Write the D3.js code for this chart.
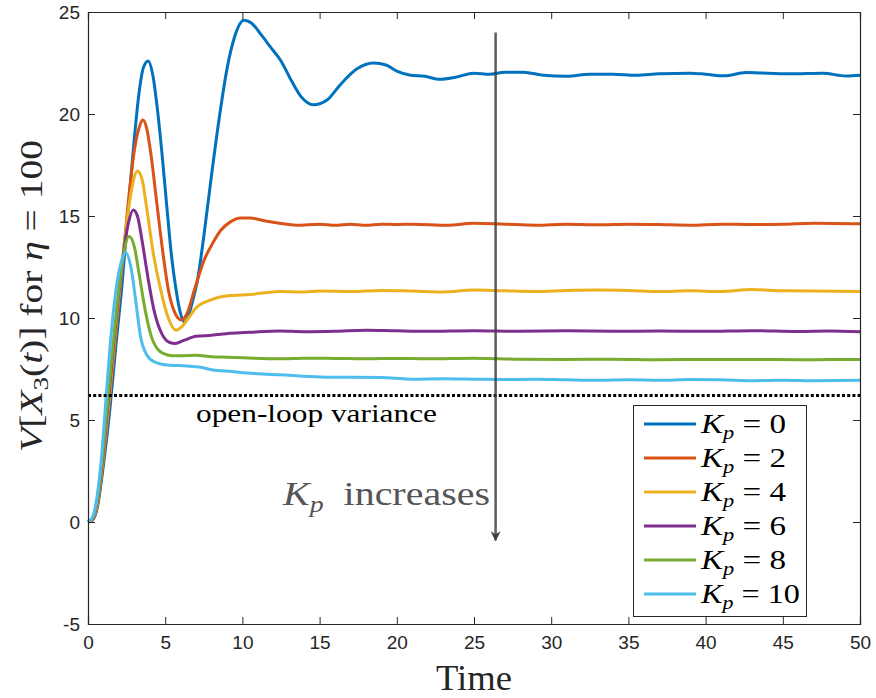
<!DOCTYPE html>
<html><head><meta charset="utf-8">
<script src="https://cdn.jsdelivr.net/npm/d3@7"></script>
<style>body{margin:0;background:#fff}svg{display:block}</style>
</head><body>
<svg id="c" width="876" height="698"></svg>
<script>
const xTicks = [0,5,10,15,20,25,30,35,40,45,50];
const yTicks = [-5,0,5,10,15,20,25];
const kpLabels = ["0","2","4","6","8","10"];
const colors = ["#0072BD","#D95319","#EDB120","#7E2F8E","#77AC30","#4DBEEE"];
const openLoop = 6.2;

const kp0 = [[0,0],[0.3,0.1],[0.6,0.7],[1.0,2.8],[1.4,5.4],[1.8,8.6],[2.2,11.6],[2.6,15.3],[3.0,18.8],[3.3,21.0],[3.6,22.3],[3.9,22.6],[4.2,21.9],[4.5,20.2],[4.8,18.0],[5.1,15.5],[5.4,13.1],[5.7,11.4],[6.0,10.2],[6.25,9.8],[6.5,10.1],[6.8,10.9],[7.1,11.9],[7.5,14.0],[8.0,17.0],[8.5,19.8],[9.0,22.2],[9.5,23.8],[10.1,24.6],[10.6,24.45],[11.2,23.9],[11.8,23.3],[12.5,22.6],[13.2,21.6],[13.8,20.85],[14.6,20.45],[15.5,20.7],[16.3,21.4],[17.4,22.2],[18.5,22.5],[19.3,22.4],[20.0,22.1],[20.9,21.9],[21.8,21.85],[22.8,21.7],[23.8,21.8],[25,22.0],[26,21.95],[27,22.05],[28.2,22.05],[29.5,21.9],[31,21.85],[32.5,21.95],[34,21.95],[35.5,21.9],[37,21.97],[39,22.0],[40,21.95],[41.2,21.87],[42.6,22.03],[44,22.0],[45.5,21.97],[47.6,22.0],[49.1,21.86],[50,21.9]];
const kp2 = [[0,0],[0.3,0.12],[0.6,0.8],[1.0,3.1],[1.4,6.0],[1.8,9.2],[2.2,12.4],[2.6,15.6],[3.0,18.2],[3.3,19.3],[3.55,19.7],[3.8,19.3],[4.1,17.9],[4.4,16.0],[4.8,13.5],[5.2,11.4],[5.6,10.3],[6.05,9.9],[6.4,10.2],[6.9,11.4],[7.5,12.8],[8.1,13.7],[8.6,14.3],[9.2,14.7],[9.9,14.9],[10.5,14.9],[11.5,14.75],[12.4,14.64],[13.5,14.55],[15,14.6],[16,14.55],[17,14.6],[18,14.55],[19,14.6],[20,14.58],[21,14.6],[23.3,14.55],[25,14.65],[27,14.6],[29,14.55],[31,14.6],[33,14.57],[35,14.6],[37,14.58],[39,14.55],[41,14.6],[43,14.58],[45,14.6],[47,14.65],[50,14.62]];
const kp4 = [[0,0],[0.3,0.15],[0.6,0.9],[1.0,3.3],[1.4,6.3],[1.8,9.6],[2.2,12.6],[2.6,15.2],[2.9,16.6],[3.2,17.2],[3.5,16.8],[3.8,15.4],[4.2,13.3],[4.7,11.4],[5.2,10.0],[5.7,9.4],[6.1,9.6],[6.6,10.1],[7.0,10.5],[8.0,10.9],[9.2,11.1],[10.5,11.15],[12.4,11.3],[14,11.28],[15,11.32],[17,11.3],[19,11.35],[21,11.32],[23,11.28],[25,11.37],[27,11.33],[29,11.3],[31,11.35],[33,11.37],[35,11.35],[37,11.3],[39,11.33],[41,11.3],[43,11.4],[45,11.33],[47,11.32],[50,11.3]];
const kp6 = [[0,0],[0.3,0.18],[0.6,1.0],[1.0,3.5],[1.4,6.6],[1.8,9.8],[2.2,12.6],[2.6,14.6],[2.93,15.3],[3.2,15.0],[3.5,13.8],[3.9,11.9],[4.3,10.3],[4.8,9.2],[5.3,8.8],[5.65,8.75],[6.2,8.9],[7.0,9.1],[8.0,9.15],[9.2,9.25],[10.5,9.3],[12.4,9.36],[14,9.33],[16,9.35],[18,9.4],[20,9.37],[22,9.35],[25,9.38],[28,9.35],[31,9.37],[34,9.35],[37,9.36],[40,9.35],[43,9.38],[46,9.34],[48,9.36],[50,9.33]];
const kp8 = [[0,0],[0.3,0.2],[0.6,1.1],[1.0,3.7],[1.4,6.9],[1.8,10.0],[2.2,12.6],[2.66,14.0],[3.0,13.5],[3.3,12.2],[3.7,10.4],[4.1,9.1],[4.6,8.4],[5.1,8.2],[5.5,8.15],[6.0,8.15],[7.0,8.17],[8.0,8.1],[9,8.08],[10,8.05],[12.4,8.0],[14,8.03],[16,8.02],[18,8.0],[20,8.02],[22,8.0],[25,8.03],[28,7.98],[31,7.97],[34,7.98],[37,7.95],[40,7.97],[43,7.97],[46,7.95],[48,7.96],[50,7.97]];
const kp10 = [[0,0],[0.3,0.25],[0.6,1.3],[0.9,3.4],[1.2,6.4],[1.5,9.2],[1.8,11.3],[2.1,12.6],[2.45,13.2],[2.8,12.4],[3.1,10.8],[3.4,9.1],[3.8,8.2],[4.3,7.85],[5.1,7.7],[6.4,7.65],[7.2,7.6],[8.1,7.45],[9,7.4],[10.3,7.3],[11.3,7.25],[12.4,7.22],[14,7.15],[15.5,7.1],[17,7.1],[19,7.08],[21,7.0],[23,7.02],[25,7.0],[27,6.98],[29,7.0],[31,6.97],[33,6.95],[35,6.97],[37,6.95],[39,6.98],[41,6.97],[43,6.93],[45,6.95],[47,6.93],[50,6.95]];
const series = [kp0,kp2,kp4,kp6,kp8,kp10];

const svg = d3.select("#c");
const L=88, R=860, T=12, B=624;
const x = d3.scaleLinear().domain([0,50]).range([L,R]);
const y = d3.scaleLinear().domain([-5,25]).range([B,T]);
const axisColor = "#262626";
const tickFont = "'Liberation Sans Narrow','Liberation Sans',Arial,sans-serif";
const serif = "'Liberation Serif','DejaVu Serif',serif";

// series
const line = d3.line().x(d=>x(d[0])).y(d=>y(d[1])).curve(d3.curveMonotoneX);
svg.append("g").selectAll("path").data(series).join("path")
  .attr("d", line).attr("fill","none")
  .attr("stroke",(d,i)=>colors[i]).attr("stroke-width",3).attr("stroke-linejoin","round");

// open-loop dotted line
svg.append("line").attr("x1",x(0)).attr("x2",x(50)).attr("y1",y(openLoop)).attr("y2",y(openLoop))
  .attr("stroke","#000").attr("stroke-width",3).attr("stroke-dasharray","3,2.2");
svg.append("text").attr("x",196).attr("y",y(openLoop)+26)
  .attr("textLength",241).attr("lengthAdjust","spacingAndGlyphs")
  .attr("font-family",serif).attr("font-size",25).attr("fill","#000").text("open-loop variance");

// arrow
const defs = svg.append("defs");
defs.append("marker").attr("id","ah").attr("viewBox","0 0 10 10").attr("refX",9).attr("refY",5)
  .attr("markerWidth",4).attr("markerHeight",6.5).attr("markerUnits","strokeWidth").attr("orient","auto")
  .append("path").attr("d","M0,0 L10,5 L0,10 L3,5 Z").attr("fill","#404040");
svg.append("line").attr("x1",x(26.4)).attr("x2",x(26.4)).attr("y1",y(24.0)).attr("y2",y(-0.9))
  .attr("stroke","#404040").attr("stroke-opacity",0.85).attr("stroke-width",2.5).attr("marker-end","url(#ah)");
const kt = svg.append("text").attr("x",283).attr("y",505)
  .attr("textLength",207).attr("lengthAdjust","spacingAndGlyphs")
  .attr("font-family",serif).attr("font-size",33).attr("fill","#555");
kt.append("tspan").attr("font-style","italic").text("K");
kt.append("tspan").attr("font-style","italic").attr("font-size",23).attr("dy",7).text("p");
kt.append("tspan").attr("dy",-7).text("\u2002increases");

// axes box
const fmt = d => String(d);
const gx = svg.append("g").attr("transform",`translate(0,${B})`)
  .call(d3.axisBottom(x).tickValues(xTicks).tickSize(-7).tickPadding(12).tickFormat(fmt));
const gxt = svg.append("g").attr("transform",`translate(0,${T})`)
  .call(d3.axisTop(x).tickValues(xTicks).tickSize(-7).tickFormat(""));
const gy = svg.append("g").attr("transform",`translate(${L},0)`)
  .call(d3.axisLeft(y).tickValues(yTicks).tickSize(-7).tickPadding(8).tickFormat(fmt));
const gyr = svg.append("g").attr("transform",`translate(${R},0)`)
  .call(d3.axisRight(y).tickValues(yTicks).tickSize(-7).tickFormat(""));
[gx,gxt,gy,gyr].forEach(g=>{
  g.select(".domain").attr("stroke",axisColor).attr("stroke-width",1.2);
  g.selectAll(".tick line").attr("stroke",axisColor).attr("stroke-width",1);
  g.selectAll("text").attr("font-family",tickFont).attr("font-size",19).attr("fill",axisColor);
});
gx.selectAll(".tick").filter(d=>d===0||d===50).select("line").remove();
gxt.selectAll(".tick").filter(d=>d===0||d===50).select("line").remove();

// axis labels
svg.append("text").attr("x",474).attr("y",690).attr("text-anchor","middle")
  .attr("textLength",76).attr("lengthAdjust","spacingAndGlyphs")
  .attr("font-family",serif).attr("font-size",35).attr("fill","#262626").text("Time");
const yl = svg.append("text").attr("transform","translate(42,296) rotate(-90)").attr("text-anchor","middle")
  .attr("textLength",312).attr("lengthAdjust","spacingAndGlyphs")
  .attr("font-family",serif).attr("font-size",32).attr("fill","#262626");
yl.append("tspan").attr("font-style","italic").text("V");
yl.append("tspan").text("[");
yl.append("tspan").attr("font-style","italic").text("X");
yl.append("tspan").attr("font-size",22).attr("dy",6).text("3");
yl.append("tspan").attr("dy",-6).text("(");
yl.append("tspan").attr("font-style","italic").text("t");
yl.append("tspan").text(")] for ");
yl.append("tspan").attr("font-style","italic").text("\u03B7");
yl.append("tspan").text(" = 100");

// legend
const lg = svg.append("g");
lg.append("rect").attr("x",633.5).attr("y",405.5).attr("width",173).attr("height",211)
  .attr("fill","#fff").attr("stroke","#262626").attr("stroke-width",1);
kpLabels.forEach((k,i)=>{
  const cy = 424 + i*34;
  lg.append("line").attr("x1",644).attr("x2",696).attr("y1",cy).attr("y2",cy)
    .attr("stroke",colors[i]).attr("stroke-width",3);
  const t = lg.append("text").attr("x",701).attr("y",cy+9).attr("font-family",serif)
    .attr("textLength",k.length>1?99:85).attr("lengthAdjust","spacingAndGlyphs")
    .attr("font-size",28).attr("fill","#000");
  t.append("tspan").attr("font-style","italic").text("K");
  t.append("tspan").attr("font-style","italic").attr("font-size",19).attr("dy",6).text("p");
  t.append("tspan").attr("dy",-6).text(" = " + k);
});
</script>
</body></html>
